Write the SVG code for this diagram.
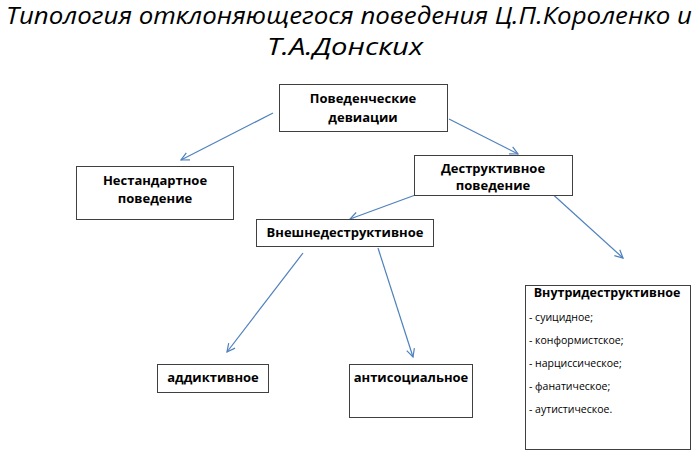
<svg xmlns="http://www.w3.org/2000/svg" width="700" height="469" viewBox="0 0 700 469">
<style>
.box{fill:#fff;stroke:#404040;stroke-width:1}
.t{font-family:"Open Sans","Liberation Sans",sans-serif;font-weight:bold;font-size:13px;fill:#000;text-anchor:middle}
.s{font-family:"Open Sans","Liberation Sans",sans-serif;font-size:10.5px;fill:#000}
.title{font-family:"Open Sans","Liberation Sans",sans-serif;font-style:italic;font-size:23px;fill:#000;text-anchor:middle}
.c line{stroke:#4f81bd;stroke-width:1.2;fill:none;marker-end:url(#ah)}
</style>
<defs>
<marker id="ah" viewBox="0 0 10 10" refX="9" refY="5" markerWidth="10" markerHeight="10" markerUnits="userSpaceOnUse" orient="auto">
<path d="M1,1 L9,5 L1,9" fill="none" stroke="#4f81bd" stroke-width="1.2"/>
</marker>
</defs>
<rect width="700" height="469" fill="#fff"/>
<g id="title">
<text class="title" x="349" y="24" textLength="686" lengthAdjust="spacingAndGlyphs">Типология отклоняющегося поведения Ц.П.Короленко и</text>
<text class="title" x="345" y="55" textLength="156" lengthAdjust="spacingAndGlyphs">Т.А.Донских</text>
</g>
<g class="c" id="connectors">
<line x1="273" y1="113" x2="181" y2="160"/>
<line x1="449" y1="119" x2="518" y2="154"/>
<line x1="448" y1="183" x2="350" y2="219"/>
<line x1="548" y1="190" x2="623" y2="258"/>
<line x1="303" y1="253" x2="227" y2="352"/>
<line x1="378" y1="248" x2="413" y2="357"/>
</g>
<g id="n-root">
<rect class="box" x="279.5" y="84.5" width="168" height="47"/>
<text class="t" x="363" y="103">Поведенческие</text>
<text class="t" x="363" y="122">девиации</text>
</g>
<g id="n-nonstd">
<rect class="box" x="76.5" y="166.5" width="157" height="53"/>
<text class="t" x="155" y="185">Нестандартное</text>
<text class="t" x="155" y="203">поведение</text>
</g>
<g id="n-destr">
<rect class="box" x="414.5" y="155.5" width="158" height="40"/>
<text class="t" x="493" y="173">Деструктивное</text>
<text class="t" x="493" y="190">поведение</text>
</g>
<g id="n-ext">
<rect class="box" x="256.5" y="219.5" width="177" height="27"/>
<text class="t" x="345" y="237">Внешнедеструктивное</text>
</g>
<g id="n-add">
<rect class="box" x="157.5" y="364.5" width="111" height="28"/>
<text class="t" x="213" y="382">аддиктивное</text>
</g>
<g id="n-anti">
<rect class="box" x="349.5" y="364.5" width="123" height="53"/>
<text class="t" x="411" y="382">антисоциальное</text>
</g>
<g id="n-int">
<rect class="box" x="525.5" y="285.5" width="165" height="164"/>
<text class="t" x="607" y="297" style="font-size:12.5px">Внутридеструктивное</text>
<text class="s" x="529" y="321">- суицидное;</text>
<text class="s" x="529" y="344">- конформистское;</text>
<text class="s" x="529" y="367">- нарциссическое;</text>
<text class="s" x="529" y="390">- фанатическое;</text>
<text class="s" x="529" y="413">- аутистическое.</text>
</g>
</svg>
